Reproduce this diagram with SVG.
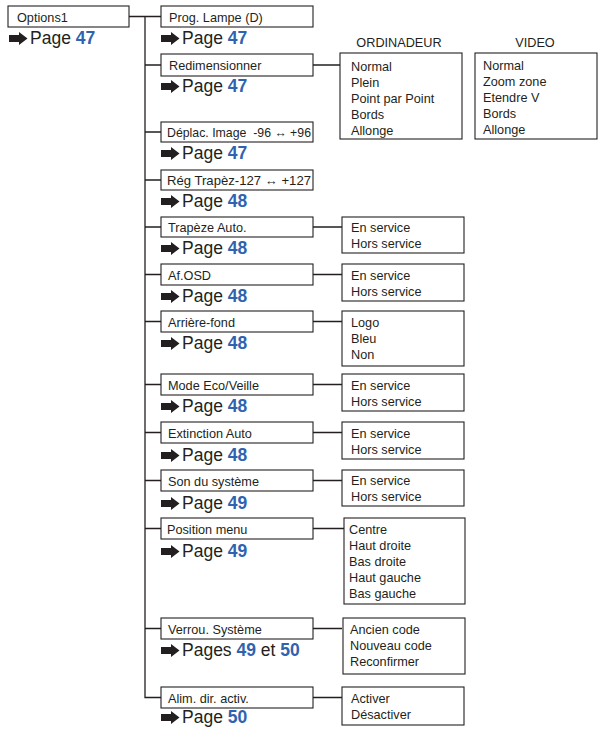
<svg xmlns="http://www.w3.org/2000/svg" width="603" height="729" viewBox="0 0 603 729">
<style>
text{font-family:"Liberation Sans",Arial,sans-serif;fill:#231f20}
.bx{fill:#fff;stroke:#231f20;stroke-width:1.1}
.t{font-size:12.7px}
.pg{font-size:17.5px}
.n{font-weight:bold;fill:#2f63b0}
.ln{fill:none;stroke:#231f20;stroke-width:1.3}
.ar{fill:#231f20}
</style>
<defs>
<path id="arr" class="ar" d="M0,-3.5 H10 V-6.5 L18.5,0 L10,6.5 V3.5 H0 Z"/>
</defs>
<g id="connectors">
<path class="ln" d="M129,16.5 H145 M145,16.5 V697.5 H161 M145,16.5 H161 M145,65 H161 M145,132 H161 M145,180 H161 M145,227 H161 M145,274.5 H161 M145,321.5 H161 M145,384.5 H161 M145,432.5 H161 M145,480.5 H161 M145,528.5 H161 M145,628.5 H161"/>
<path class="ln" d="M313,65 H340 M313,227 H342 M313,274.5 H342 M313,321.5 H342 M313,384.5 H342 M313,432.5 H342 M313,480.5 H342 M313,528.5 H344 M313,628.5 H342 M313,697.5 H342"/>
</g>
<g id="options1">
<rect class="bx" x="8" y="6" width="121" height="21"/>
<text class="t" x="17" y="21.5">Options1</text>
<use href="#arr" x="9" y="38.5"/>
<text class="pg" x="30" y="44">Page <tspan class="n">47</tspan></text>
</g>
<g id="prog">
<rect class="bx" x="161" y="6" width="152" height="21"/>
<text class="t" x="169" y="21.5">Prog. Lampe (D)</text>
<use href="#arr" x="161" y="38.5"/>
<text class="pg" x="182" y="44">Page <tspan class="n">47</tspan></text>
</g>
<g id="redim">
<rect class="bx" x="161" y="54" width="152" height="22"/>
<text class="t" x="169" y="70">Redimensionner</text>
<use href="#arr" x="161" y="86.5"/>
<text class="pg" x="182" y="92">Page <tspan class="n">47</tspan></text>
</g>
<g id="ordinadeur">
<text class="t" x="399" y="47" text-anchor="middle">ORDINADEUR</text>
<rect class="bx" x="340" y="53" width="122" height="86"/>
<text class="t" x="351" y="71">Normal</text>
<text class="t" x="351" y="87">Plein</text>
<text class="t" x="351" y="103">Point par Point</text>
<text class="t" x="351" y="119">Bords</text>
<text class="t" x="351" y="135">Allonge</text>
</g>
<g id="video">
<text class="t" x="535" y="47" text-anchor="middle">VIDEO</text>
<rect class="bx" x="475" y="53" width="122" height="86"/>
<text class="t" x="483" y="70">Normal</text>
<text class="t" x="483" y="86">Zoom zone</text>
<text class="t" x="483" y="102">Etendre V</text>
<text class="t" x="483" y="118">Bords</text>
<text class="t" x="483" y="134">Allonge</text>
</g>
<g id="deplac">
<rect class="bx" x="161" y="122" width="152" height="20"/>
<text class="t" x="167" y="137" xml:space="preserve" textLength="144" lengthAdjust="spacingAndGlyphs">Déplac. Image  -96 ↔ +96</text>
<use href="#arr" x="161" y="153.5"/>
<text class="pg" x="182" y="159">Page <tspan class="n">47</tspan></text>
</g>
<g id="regtrapez">
<rect class="bx" x="161" y="170" width="152" height="20"/>
<text class="t" x="167" y="185" textLength="144" lengthAdjust="spacingAndGlyphs">Rég Trapèz-127 ↔ +127</text>
<use href="#arr" x="161" y="201.5"/>
<text class="pg" x="182" y="207">Page <tspan class="n">48</tspan></text>
</g>
<g id="trapauto">
<rect class="bx" x="161" y="217" width="152" height="20"/>
<text class="t" x="168" y="232">Trapèze Auto.</text>
<use href="#arr" x="161" y="248.5"/>
<text class="pg" x="182" y="254">Page <tspan class="n">48</tspan></text>
<rect class="bx" x="342" y="217" width="122" height="36"/>
<text class="t" x="351" y="232">En service</text>
<text class="t" x="351" y="248">Hors service</text>
</g>
<g id="afosd">
<rect class="bx" x="161" y="264" width="152" height="21"/>
<text class="t" x="168" y="279.5">Af.OSD</text>
<use href="#arr" x="161" y="296.5"/>
<text class="pg" x="182" y="302">Page <tspan class="n">48</tspan></text>
<rect class="bx" x="342" y="264" width="122" height="37"/>
<text class="t" x="351" y="280">En service</text>
<text class="t" x="351" y="296">Hors service</text>
</g>
<g id="arriere">
<rect class="bx" x="161" y="311" width="152" height="21"/>
<text class="t" x="168" y="326.5">Arrière-fond</text>
<use href="#arr" x="161" y="343.5"/>
<text class="pg" x="182" y="349">Page <tspan class="n">48</tspan></text>
<rect class="bx" x="342" y="311" width="122" height="55"/>
<text class="t" x="351" y="327">Logo</text>
<text class="t" x="351" y="343">Bleu</text>
<text class="t" x="351" y="359">Non</text>
</g>
<g id="modeeco">
<rect class="bx" x="161" y="374" width="152" height="21"/>
<text class="t" x="168" y="389.5">Mode Eco/Veille</text>
<use href="#arr" x="161" y="406.5"/>
<text class="pg" x="182" y="412">Page <tspan class="n">48</tspan></text>
<rect class="bx" x="342" y="374" width="122" height="37"/>
<text class="t" x="351" y="390">En service</text>
<text class="t" x="351" y="406">Hors service</text>
</g>
<g id="extinction">
<rect class="bx" x="161" y="422" width="152" height="21"/>
<text class="t" x="168" y="437.5">Extinction Auto</text>
<use href="#arr" x="161" y="455.5"/>
<text class="pg" x="182" y="461">Page <tspan class="n">48</tspan></text>
<rect class="bx" x="342" y="422" width="122" height="37"/>
<text class="t" x="351" y="438">En service</text>
<text class="t" x="351" y="454">Hors service</text>
</g>
<g id="son">
<rect class="bx" x="161" y="470" width="152" height="21"/>
<text class="t" x="168" y="485.5">Son du système</text>
<use href="#arr" x="161" y="503.5"/>
<text class="pg" x="182" y="509">Page <tspan class="n">49</tspan></text>
<rect class="bx" x="342" y="470" width="122" height="36"/>
<text class="t" x="351" y="485">En service</text>
<text class="t" x="351" y="501">Hors service</text>
</g>
<g id="position">
<rect class="bx" x="161" y="518" width="152" height="21"/>
<text class="t" x="167" y="533.5">Position menu</text>
<use href="#arr" x="161" y="551.5"/>
<text class="pg" x="182" y="557">Page <tspan class="n">49</tspan></text>
<rect class="bx" x="344" y="518" width="121" height="86"/>
<text class="t" x="349" y="534">Centre</text>
<text class="t" x="349" y="550">Haut droite</text>
<text class="t" x="349" y="566">Bas droite</text>
<text class="t" x="349" y="582">Haut gauche</text>
<text class="t" x="349" y="598">Bas gauche</text>
</g>
<g id="verrou">
<rect class="bx" x="161" y="618" width="152" height="21"/>
<text class="t" x="168" y="633.5">Verrou. Système</text>
<use href="#arr" x="161" y="650.5"/>
<text class="pg" x="182" y="656">Pages <tspan class="n">49</tspan> et <tspan class="n">50</tspan></text>
<rect class="bx" x="343" y="618" width="122" height="56"/>
<text class="t" x="350" y="634">Ancien code</text>
<text class="t" x="350" y="650">Nouveau code</text>
<text class="t" x="350" y="666">Reconfirmer</text>
</g>
<g id="alim">
<rect class="bx" x="161" y="687" width="152" height="21"/>
<text class="t" x="168" y="702.5">Alim. dir. activ.</text>
<use href="#arr" x="161" y="717.5"/>
<text class="pg" x="182" y="723">Page <tspan class="n">50</tspan></text>
<rect class="bx" x="342" y="687" width="122" height="38"/>
<text class="t" x="351" y="703">Activer</text>
<text class="t" x="351" y="719">Désactiver</text>
</g>
</svg>
